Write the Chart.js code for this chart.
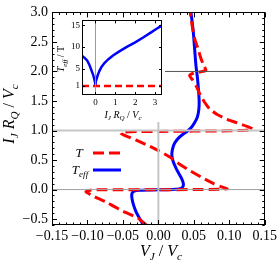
<!DOCTYPE html>
<html>
<head>
<meta charset="utf-8">
<script src="https://cdn.jsdelivr.net/npm/chart.js@4.4.1/dist/chart.umd.min.js"></script>
<style>
html, body { margin: 0; padding: 0; background: #fff; }
#wrap { position: relative; width: 280px; height: 261px; }
#main { position: absolute; left: 0; top: 0; }
#inset { position: absolute; left: 50px; top: 13px; }
</style>
</head>
<body>
<div id="wrap">
  <canvas id="main" width="280" height="261"></canvas>
  <canvas id="inset" width="117" height="109"></canvas>
</div>
<script>
// T curve (red dashed): V_J/V_c against I_J R_Q/V_c
const tVolt = [-0.017, -0.028, -0.040, -0.051, -0.062, -0.072, -0.085, -0.095, -0.100, -0.102, -0.096, -0.085,
  -0.05, 0.0, 0.05, 0.085, 0.097, 0.088, 0.078, 0.062, 0.046, 0.030, 0.015, 0.0, -0.015, -0.032, -0.046, -0.053,
  -0.047, -0.03, 0.0, 0.05, 0.1, 0.124, 0.133, 0.125, 0.111, 0.097, 0.083, 0.072, 0.064, 0.058, 0.053, 0.048,
  0.044, 0.050, 0.060, 0.067, 0.064, 0.060, 0.056, 0.051, 0.048, 0.046, 0.045];
const tCurr = [-0.6, -0.49, -0.42, -0.36, -0.29, -0.22, -0.15, -0.09, -0.055, -0.035, -0.01, -0.003,
  -0.003, -0.003, 0.0, 0.004, 0.012, 0.05, 0.10, 0.20, 0.31, 0.43, 0.56, 0.66, 0.75, 0.84, 0.91, 0.955,
  0.975, 0.982, 0.985, 0.99, 0.995, 1.005, 1.025, 1.07, 1.13, 1.19, 1.27, 1.37, 1.5, 1.63, 1.76, 1.86,
  1.93, 1.975, 1.995, 2.02, 2.1, 2.22, 2.38, 2.56, 2.75, 2.9, 3.0];

// T_eff curve (blue)
const teffVolt = [-0.021, -0.026, -0.032, -0.036, -0.0375, -0.037, -0.034, -0.027, -0.012, 0.01, 0.025, 0.032,
  0.035, 0.035, 0.033, 0.029, 0.025, 0.021, 0.019, 0.020, 0.023, 0.029, 0.036, 0.042, 0.047, 0.051, 0.055,
  0.057, 0.0575, 0.0565, 0.055, 0.053, 0.051, 0.049, 0.046];
const teffCurr = [-0.6, -0.5, -0.36, -0.22, -0.12, -0.06, -0.028, -0.012, -0.006, -0.002, 0.005, 0.02,
  0.06, 0.11, 0.18, 0.27, 0.36, 0.47, 0.58, 0.69, 0.79, 0.88, 0.95, 1.0, 1.06, 1.13, 1.23,
  1.35, 1.5, 1.7, 1.9, 2.1, 2.4, 2.7, 3.0];

const xTicks = [-0.15, -0.10, -0.05, 0, 0.05, 0.10, 0.15];
const xTickLabels = ['\u22120.15', '\u22120.10', '\u22120.05', '0.00', '0.05', '0.10', '0.15'];
const yTicks = [-0.5, 0, 0.5, 1, 1.5, 2, 2.5, 3];
const yTickLabels = ['\u22120.5', '0.0', '0.5', '1.0', '1.5', '2.0', '2.5', '3.0'];

// inset: T_eff/T against I_J R_Q/V_c
const insetCurr = [-0.68, -0.55, -0.42, -0.3, -0.2, -0.12, -0.06, -0.025, -0.008, 0, 0.008, 0.025, 0.06,
  0.12, 0.2, 0.3, 0.45, 0.65, 0.9, 1.2, 1.6, 2.0, 2.4, 2.8, 3.1, 3.35];
const insetTeff = [8.0, 7.5, 6.9, 5.8, 4.6, 3.6, 2.6, 1.9, 1.4, 1.0, 1.4, 1.9, 2.7,
  3.6, 4.5, 5.4, 6.3, 7.2, 8.1, 9.0, 10.1, 11.1, 12.2, 13.4, 14.3, 15.0];
const insetXTicks = [0, 1, 2, 3];
const insetYTicks = [1, 5, 10, 15];

const serif = '"Liberation Serif", "DejaVu Serif", serif';
Chart.defaults.font.family = serif;
Chart.defaults.color = '#000';

const pts = (xs, ys) => xs.map((x, i) => ({ x: x, y: ys[i] }));

// draws text pieces side by side, centred on x; piece = [text, italic, subscript]
function richText(ctx, parts, x, y, size) {
  const fontFor = p => (p[1] ? 'italic ' : '') + (p[2] ? size * 0.7 : size) + 'px ' + serif;
  let w = 0;
  parts.forEach(p => { ctx.font = fontFor(p); w += ctx.measureText(p[0]).width; });
  let cx = x - w / 2;
  ctx.textAlign = 'left';
  ctx.textBaseline = 'alphabetic';
  parts.forEach(p => {
    ctx.font = fontFor(p);
    ctx.fillText(p[0], cx, y + (p[2] ? size * 0.25 : 0));
    cx += ctx.measureText(p[0]).width;
  });
}

// inward ticks on all four sides plus the black frame
function drawFrame(chart, xMinor, yMinor, isMajorX, isMajorY, long, short) {
  const ctx = chart.ctx, a = chart.chartArea;
  const xs = chart.scales.x, ys = chart.scales.y;
  ctx.save();
  ctx.strokeStyle = '#000';
  ctx.lineWidth = 1;
  ctx.setLineDash([]);
  ctx.beginPath();
  xMinor.forEach(v => {
    const px = Math.round(xs.getPixelForValue(v)) + 0.5;
    const len = isMajorX(v) ? long : short;
    ctx.moveTo(px, a.bottom); ctx.lineTo(px, a.bottom - len);
    ctx.moveTo(px, a.top); ctx.lineTo(px, a.top + len);
  });
  yMinor.forEach(v => {
    const py = Math.round(ys.getPixelForValue(v)) + 0.5;
    const len = isMajorY(v) ? long : short;
    ctx.moveTo(a.left, py); ctx.lineTo(a.left + len, py);
    ctx.moveTo(a.right, py); ctx.lineTo(a.right - len, py);
  });
  ctx.stroke();
  ctx.strokeRect(Math.round(a.left) + 0.5, Math.round(a.top) + 0.5,
    Math.round(a.right - a.left) - 1, Math.round(a.bottom - a.top) - 1);
  ctx.restore();
}

const mainDecor = {
  id: 'mainDecor',
  afterDatasetsDraw(chart) {
    const ctx = chart.ctx;
    // white panel under the inset
    ctx.save();
    ctx.fillStyle = '#fff';
    ctx.fillRect(53, 8, 112, 114);
    ctx.restore();

    const xMinor = [], yMinor = [];
    for (let i = -15; i <= 15; i++) xMinor.push(i / 100);
    for (let i = -6; i <= 30; i++) yMinor.push(i / 10);
    drawFrame(chart, xMinor, yMinor,
      v => Math.abs(v * 20 - Math.round(v * 20)) < 1e-6,
      v => Math.abs(v * 2 - Math.round(v * 2)) < 1e-6, 5, 2.5);

    ctx.save();
    ctx.fillStyle = '#000';
    // axis titles
    richText(ctx, [['V', 1, 0], ['J', 1, 1], [' / ', 0, 0], ['V', 1, 0], ['c', 1, 1]], 161, 256, 16);
    ctx.translate(13.5, 114);
    ctx.rotate(-Math.PI / 2);
    richText(ctx, [['I', 1, 0], ['J', 1, 1], [' ', 0, 0], ['R', 1, 0], ['Q', 1, 1], [' / ', 0, 0], ['V', 1, 0], ['c', 1, 1]], 0, 0, 16);
    ctx.restore();

    // legend
    ctx.save();
    ctx.fillStyle = '#000';
    richText(ctx, [['T', 1, 0]], 79, 157, 13);
    richText(ctx, [['T', 1, 0], ['eff', 1, 1]], 80, 174, 13);
    ctx.lineWidth = 3;
    ctx.strokeStyle = '#ff0000';
    ctx.setLineDash([11, 5]);
    ctx.beginPath(); ctx.moveTo(93, 153); ctx.lineTo(121, 153); ctx.stroke();
    ctx.setLineDash([]);
    ctx.strokeStyle = '#0000ff';
    ctx.beginPath(); ctx.moveTo(93, 170); ctx.lineTo(121, 170); ctx.stroke();
    ctx.restore();
  }
};

new Chart(document.getElementById('main'), {
  type: 'scatter',
  data: {
    datasets: [
      { data: pts([-0.15, 0.15], [0, 0]), showLine: true, borderColor: '#a0a0a0', borderWidth: 1 },
      { data: pts([-0.15, 0.15], [1, 1]), showLine: true, borderColor: '#c6c6c6', borderWidth: 2 },
      { data: pts([-0.15, 0.15], [2, 2]), showLine: true, borderColor: '#555555', borderWidth: 1 },
      { data: pts([0, 0], [-0.6, 3]), showLine: true, borderColor: '#c6c6c6', borderWidth: 2 },
      { label: 'T', data: pts(tVolt, tCurr), showLine: true, borderColor: '#ff0000', borderWidth: 3,
        borderDash: [11, 5], tension: 0.2 },
      { label: 'Teff', data: pts(teffVolt, teffCurr), showLine: true, borderColor: '#0000ff', borderWidth: 3,
        tension: 0.3 }
    ]
  },
  options: {
    responsive: false,
    animation: false,
    devicePixelRatio: 1,
    layout: { padding: { top: 7, right: 12, left: 0, bottom: 0 } },
    elements: { point: { radius: 0, hoverRadius: 0 } },
    plugins: { legend: { display: false }, tooltip: { enabled: false } },
    scales: {
      x: {
        type: 'linear', min: -0.15, max: 0.15,
        grid: { display: false, drawTicks: false }, border: { display: false },
        afterBuildTicks: s => { s.ticks = xTicks.map(v => ({ value: v })); },
        afterFit: s => { s.height = 36; },
        ticks: { padding: 3, font: { size: 14 }, maxRotation: 0, autoSkip: false,
          callback: v => xTickLabels[xTicks.indexOf(v)] }
      },
      y: {
        type: 'linear', min: -0.6, max: 3.0,
        grid: { display: false, drawTicks: false }, border: { display: false },
        afterBuildTicks: s => { s.ticks = yTicks.map(v => ({ value: v })); },
        afterFit: s => { s.width = 52; },
        ticks: { padding: 4, font: { size: 14 }, autoSkip: false,
          callback: v => yTickLabels[yTicks.indexOf(v)] }
      }
    }
  },
  plugins: [mainDecor]
});

const insetDecor = {
  id: 'insetDecor',
  afterDatasetsDraw(chart) {
    const ctx = chart.ctx;
    drawFrame(chart, insetXTicks, insetYTicks, () => true, () => true, 3, 3);
    ctx.save();
    ctx.fillStyle = '#000';
    richText(ctx, [['I', 1, 0], ['J', 1, 1], [' ', 0, 0], ['R', 1, 0], ['Q', 1, 1], [' / ', 0, 0], ['V', 1, 0], ['c', 1, 1]], 73, 104.5, 10);
    ctx.translate(14, 46);
    ctx.rotate(-Math.PI / 2);
    richText(ctx, [['T', 1, 0], ['eff', 1, 1], [' / ', 0, 0], ['T', 0, 0]], 0, 0, 10);
    ctx.restore();
  }
};

new Chart(document.getElementById('inset'), {
  type: 'scatter',
  data: {
    datasets: [
      { data: pts([0, 0], [-1.07, 16.16]), showLine: true, borderColor: '#9a9a9a', borderWidth: 1 },
      { data: pts([-0.68, 3.35], [1, 1]), showLine: true, borderColor: '#ff0000', borderWidth: 2.5,
        borderDash: [7, 4] },
      { data: pts(insetCurr, insetTeff), showLine: true, borderColor: '#0000ff', borderWidth: 2.5, tension: 0 }
    ]
  },
  options: {
    responsive: false,
    animation: false,
    devicePixelRatio: 1,
    layout: { padding: { top: 2, right: 5, left: 0, bottom: 0 } },
    elements: { point: { radius: 0, hoverRadius: 0 } },
    plugins: { legend: { display: false }, tooltip: { enabled: false } },
    scales: {
      x: {
        type: 'linear', min: -0.68, max: 3.35,
        grid: { display: false, drawTicks: false }, border: { display: false },
        afterBuildTicks: s => { s.ticks = insetXTicks.map(v => ({ value: v })); },
        afterFit: s => { s.height = 27; },
        ticks: { padding: 2, font: { size: 9 }, maxRotation: 0, autoSkip: false,
          callback: v => String(v) }
      },
      y: {
        type: 'linear', min: -1.07, max: 16.16,
        grid: { display: false, drawTicks: false }, border: { display: false },
        afterBuildTicks: s => { s.ticks = insetYTicks.map(v => ({ value: v })); },
        afterFit: s => { s.width = 32; },
        ticks: { padding: 2, font: { size: 9 }, autoSkip: false, callback: v => String(v) }
      }
    }
  },
  plugins: [insetDecor]
});
</script>
</body>
</html>
